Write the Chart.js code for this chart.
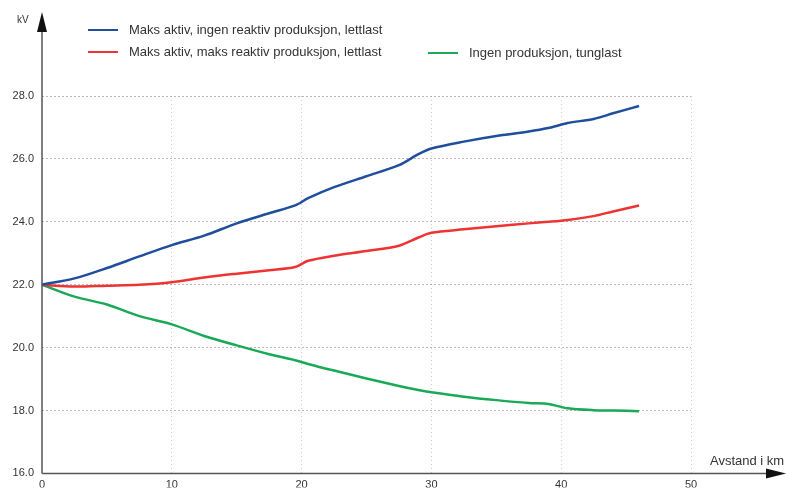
<!DOCTYPE html>
<html>
  <head>
    <script src="https://cdn.jsdelivr.net/npm/chart.js@4.4.0/dist/chart.umd.min.js"></script>
    <style>
      body { margin: 0; background: #fff; }
      #wrap { width: 786px; height: 488px; }
    </style>
  </head>
  <body>
    <div id="wrap"><canvas id="myChart" width="786" height="488"></canvas></div>

    <script>
      // distance along the line (km)
      var distance = [0, 2.5, 5, 7.5, 10, 12.5, 15, 17.5, 19.5, 20.5, 22.5, 25, 27.5, 29, 30, 32.5, 35, 37.5, 39, 40.5, 42.5, 44, 46];

      // voltage (kV) for each case
      var maxActiveNoReactive = [22.0, 22.2, 22.53, 22.9, 23.26, 23.56, 23.95, 24.27, 24.52, 24.75, 25.1, 25.45, 25.8, 26.15, 26.33, 26.55, 26.73, 26.87, 26.98, 27.14, 27.27, 27.45, 27.68];
      var maxActiveMaxReactive = [22.0, 21.94, 21.97, 22.0, 22.08, 22.23, 22.35, 22.46, 22.56, 22.76, 22.92, 23.07, 23.24, 23.5, 23.65, 23.76, 23.86, 23.95, 24.0, 24.06, 24.18, 24.33, 24.52];
      var noProductionHeavy = [22.0, 21.62, 21.37, 21.0, 20.74, 20.37, 20.07, 19.79, 19.6, 19.48, 19.27, 19.02, 18.78, 18.65, 18.58, 18.44, 18.33, 18.24, 18.21, 18.07, 18.01, 18.0, 17.98];

      var seriesLabels = [
        "Maks aktiv, ingen reaktiv produksjon, lettlast",
        "Maks aktiv, maks reaktiv produksjon, lettlast",
        "Ingen produksjon, tunglast",
      ];
      var yTicks = [16, 18, 20, 22, 24, 26, 28];
      var xTicks = [0, 10, 20, 30, 40, 50];

      var FONT = "'Liberation Sans', Arial, sans-serif";

      function points(values) {
        return distance.map(function (d, i) {
          return { x: d, y: values[i] };
        });
      }

      // axis arrows, axis titles and the hand placed legend
      var decorations = {
        id: "decorations",
        afterDraw: function (chart) {
          var ctx = chart.ctx;
          var area = chart.chartArea;
          ctx.save();

          // axes with arrow heads
          ctx.strokeStyle = "#555";
          ctx.fillStyle = "#111";
          ctx.lineWidth = 1.5;
          ctx.beginPath();
          ctx.moveTo(area.left, area.bottom);
          ctx.lineTo(area.left, 28);
          ctx.moveTo(area.left, area.bottom);
          ctx.lineTo(770, area.bottom);
          ctx.stroke();

          ctx.beginPath();
          ctx.moveTo(area.left, 12);
          ctx.lineTo(area.left - 5, 32);
          ctx.lineTo(area.left + 5, 32);
          ctx.closePath();
          ctx.fill();

          ctx.beginPath();
          ctx.moveTo(786, area.bottom);
          ctx.lineTo(766, area.bottom - 5);
          ctx.lineTo(766, area.bottom + 5);
          ctx.closePath();
          ctx.fill();

          ctx.fillStyle = "#333";
          ctx.font = "10px " + FONT;
          ctx.textAlign = "left";
          ctx.textBaseline = "middle";
          ctx.fillText("kV", 17, 20);
          ctx.font = "13px " + FONT;
          ctx.fillText("Avstand i km", 710, 461);

          // legend
          var spots = [
            { x: 88, y: 30 },
            { x: 88, y: 52 },
            { x: 428, y: 53 },
          ];
          chart.data.datasets.forEach(function (ds, i) {
            var s = spots[i];
            ctx.strokeStyle = ds.borderColor;
            ctx.lineWidth = 2;
            ctx.beginPath();
            ctx.moveTo(s.x, s.y);
            ctx.lineTo(s.x + 30, s.y);
            ctx.stroke();
            ctx.fillStyle = "#333";
            ctx.fillText(ds.label, s.x + 41, s.y);
          });
          ctx.restore();
        },
      };

      var ctx = document.getElementById("myChart").getContext("2d");
      var myChart = new Chart(ctx, {
        type: "line",
        data: {
          datasets: [
            {
              label: seriesLabels[0],
              data: points(maxActiveNoReactive),
              borderColor: "#1f4f9c",
            },
            {
              label: seriesLabels[1],
              data: points(maxActiveMaxReactive),
              borderColor: "#ee3333",
            },
            {
              label: seriesLabels[2],
              data: points(noProductionHeavy),
              borderColor: "#19a957",
            },
          ],
        },
        plugins: [decorations],
        options: {
          responsive: false,
          animation: false,
          layout: { padding: { top: 96, right: 95, left: 0, bottom: 0 } },
          elements: {
            line: { borderWidth: 2.5, tension: 0.3, fill: false },
            point: { radius: 0 },
          },
          plugins: {
            legend: { display: false },
            tooltip: { enabled: false },
          },
          scales: {
            x: {
              type: "linear",
              min: 0,
              max: 50,
              afterFit: function (scale) {
                scale.height = 14;
              },
              afterBuildTicks: function (scale) {
                scale.ticks = xTicks.map(function (v) {
                  return { value: v };
                });
              },
              border: { display: false, dash: [1, 3] },
              grid: {
                color: function (c) {
                  return c.tick.value === 0 ? "rgba(0,0,0,0)" : "rgba(170,170,170,0.6)";
                },
                drawTicks: false,
              },
              ticks: {
                color: "#333",
                font: { family: FONT, size: 11 },
                padding: 5,
                maxRotation: 0,
              },
            },
            y: {
              min: 16,
              max: 28,
              afterFit: function (scale) {
                scale.width = 42;
              },
              afterBuildTicks: function (scale) {
                scale.ticks = yTicks.map(function (v) {
                  return { value: v };
                });
              },
              border: { display: false, dash: [2, 2] },
              grid: {
                color: function (c) {
                  return c.tick.value === 16 ? "rgba(0,0,0,0)" : "rgba(170,150,150,0.7)";
                },
                drawTicks: false,
              },
              ticks: {
                color: "#333",
                font: { family: FONT, size: 11 },
                padding: 8,
                callback: function (v) {
                  return v.toFixed(1);
                },
              },
            },
          },
        },
      });
    </script>
  </body>
</html>
